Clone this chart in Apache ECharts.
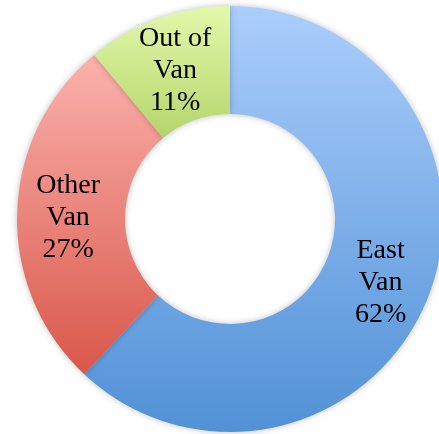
<!DOCTYPE html>
<html>
<head>
<meta charset="utf-8">
<script src="https://cdn.jsdelivr.net/npm/echarts@6/dist/echarts.min.js"></script>
<style>
  html, body { margin: 0; padding: 0; background: #fff; }
  #root { width: 439px; height: 434px; }
</style>
</head>
<body>
<div id="root"></div>
<script>
// chart data
const categories = ['East Van', 'Other Van', 'Out of Van']
const shares = [62, 27, 11]
const labelLines = ['East\nVan', 'Other\nVan', 'Out of\nVan']

// top / bottom colour of each slice's gradient
const topColors = ['#abcefc', '#fbb2ad', '#e3f9ab']
const bottomColors = ['#5191d6', '#d9574a', '#b5d56b']

const chart = echarts.init(document.getElementById('root'))

const data = categories.map((name, i) => {
  return {
    name: name,
    value: shares[i],
    itemStyle: {
      color: new echarts.graphic.LinearGradient(0, 0, 0, 1, [
        { offset: 0, color: topColors[i] },
        { offset: 1, color: bottomColors[i] }
      ])
    }
  }
})

const option = {
  animation: false,
  series: [
    {
      type: 'pie',
      center: [230, 219],
      radius: [105, 213],
      startAngle: 90,
      clockwise: true,
      avoidLabelOverlap: false,
      itemStyle: {
        borderWidth: 0,
        shadowBlur: 6,
        shadowColor: 'rgba(0,0,0,0.25)'
      },
      label: {
        show: true,
        position: 'inside',
        fontFamily: 'Liberation Serif',
        fontSize: 28,
        lineHeight: 32,
        color: '#000',
        offset: [0, 4],
        formatter: p => labelLines[p.dataIndex] + '\n' + p.value + '%'
      },
      labelLine: { show: false },
      emphasis: { disabled: true },
      data: data
    }
  ]
}
chart.setOption(option)
</script>
</body>
</html>
